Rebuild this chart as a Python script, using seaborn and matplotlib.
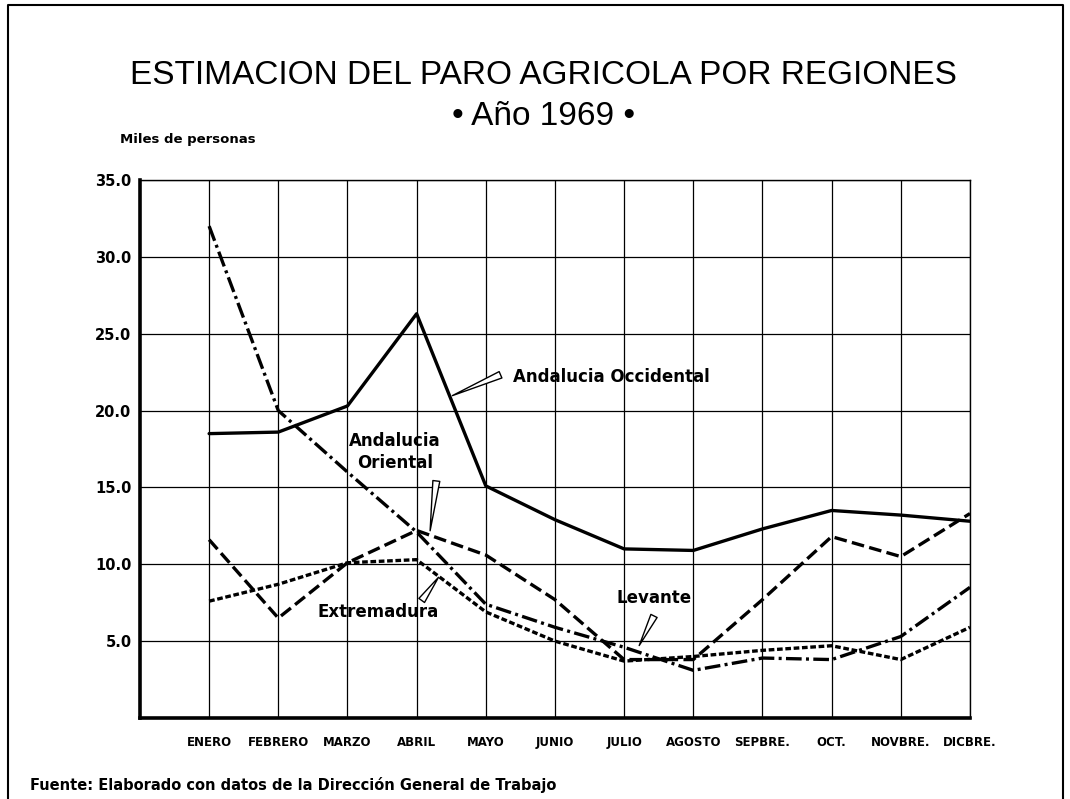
import pandas as pd
import numpy as np
import matplotlib.pyplot as plt
import seaborn as sns

# Datos (miles de personas)
meses = ['ENERO', 'FEBRERO', 'MARZO', 'ABRIL', 'MAYO', 'JUNIO', 'JULIO',
         'AGOSTO', 'SEPBRE.', 'OCT.', 'NOVBRE.', 'DICBRE.']
and_occidental = [18.5, 18.6, 20.3, 26.3, 15.1, 12.9, 11.0, 10.9, 12.3, 13.5, 13.2, 12.8]
and_oriental = [32.0, 20.0, 16.0, 12.1, 7.4, 5.9, 4.6, 3.1, 3.9, 3.8, 5.3, 8.5]
levante = [11.6, 6.5, 10.1, 12.2, 10.6, 7.7, 3.8, 3.8, 7.7, 11.8, 10.5, 13.3]
extremadura = [7.6, 8.7, 10.1, 10.3, 6.9, 5.0, 3.7, 4.0, 4.4, 4.7, 3.8, 5.9]
y_ticks = [5, 10, 15, 20, 25, 30, 35]

sns.set_style('white')
plt.rcParams['font.family'] = ['DejaVu Sans']
plt.rcParams['text.color'] = 'black'
plt.rcParams['xtick.color'] = 'black'
plt.rcParams['ytick.color'] = 'black'

# Formato largo para seaborn
pos = np.arange(1, len(meses) + 1)
series = {
    'Andalucia Occidental': and_occidental,
    'Andalucia Oriental': and_oriental,
    'Levante': levante,
    'Extremadura': extremadura,
}
df = pd.concat([pd.DataFrame({'pos': pos, 'valor': v, 'region': k})
                for k, v in series.items()], ignore_index=True)

dash_map = {
    'Andalucia Occidental': '',
    'Andalucia Oriental': (4.7, 1.3, 0.9, 1.3),
    'Levante': (3.8, 1.6),
    'Extremadura': (1.7, 0.8),
}

fig = plt.figure(figsize=(10.7, 7.99), dpi=100)
ax = fig.add_axes([0.1308, 0.1014, 0.7757, 0.6733])

sns.lineplot(data=df, x='pos', y='valor', style='region', dashes=dash_map,
             color='black', lw=2.4, legend=False, ax=ax, sort=False)

ax.set_xlim(0, 12)
ax.set_ylim(0, 35)
ax.set_xticks(pos)
ax.set_xticklabels(meses, family=['Liberation Sans Narrow', 'DejaVu Sans'],
                   fontweight='bold', fontsize=8.5)
ax.set_yticks(y_ticks)
ax.set_yticklabels([f'{v:.1f}' for v in y_ticks], fontweight='bold', fontsize=10.5)
ax.tick_params(axis='x', length=0, pad=13)
ax.tick_params(axis='y', length=6, width=1, pad=0, direction='out', color='black')
ax.set_xlabel('')
ax.set_ylabel('')
ax.grid(True, color='black', lw=0.9)
ax.set_axisbelow(True)
for s in ['left', 'bottom']:
    ax.spines[s].set_linewidth(2.6)
for s in ['top', 'right']:
    ax.spines[s].set_linewidth(1.0)
for s in ax.spines.values():
    s.set_color('black')

# Etiquetas de las series con sus indicadores
flecha = dict(arrowstyle='wedge,tail_width=0.5,shrink_factor=0.5',
              fc='white', ec='black', lw=1)
ax.text(5.39, 22.2, 'Andalucia Occidental', fontsize=12, fontweight='bold', va='center')
ax.annotate('', xy=(4.48, 20.9), xytext=(5.25, 22.4), arrowprops=flecha)
ax.text(3.69, 17.3, 'Andalucia\nOriental', fontsize=12, fontweight='bold',
        ha='center', va='center', linespacing=1.3)
ax.annotate('', xy=(4.19, 12.0), xytext=(4.29, 15.6), arrowprops=flecha)
ax.text(3.44, 6.9, 'Extremadura', fontsize=12, fontweight='bold', ha='center', va='center')
ax.annotate('', xy=(4.34, 9.3), xytext=(4.05, 7.5), arrowprops=flecha)
ax.text(7.43, 7.8, 'Levante', fontsize=12, fontweight='bold', ha='center', va='center')
ax.annotate('', xy=(7.2, 4.55), xytext=(7.45, 6.8), arrowprops=flecha)

# Titulos y textos
fig.text(0.508, 0.906, 'ESTIMACION DEL PARO AGRICOLA POR REGIONES',
         family=['Liberation Sans', 'DejaVu Sans'], fontsize=24, ha='center', va='center')
fig.text(0.508, 0.854, '• Año 1969 •', family=['Liberation Sans', 'DejaVu Sans'],
         fontsize=24, ha='center', va='center')
fig.text(0.112, 0.825, 'Miles de personas', fontsize=9.5, fontweight='bold', va='center')
fig.text(0.028, 0.0175, 'Fuente: Elaborado con datos de la Dirección General de Trabajo',
         fontsize=10.5, fontweight='bold', va='center')

# Marco
fig.add_artist(plt.Line2D([0.0075, 0.0075, 0.9935, 0.9935], [0.0, 0.994, 0.994, 0.0],
                          transform=fig.transFigure, color='black', lw=1.5))

fig.savefig('out.png', dpi=100)
